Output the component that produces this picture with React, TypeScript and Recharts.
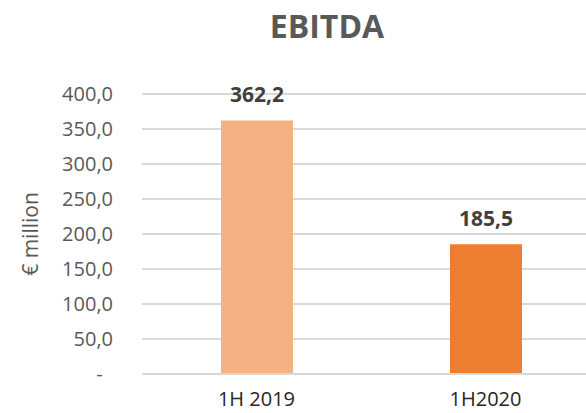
import { BarChart, Bar, XAxis, YAxis, CartesianGrid, Cell, LabelList } from 'recharts';

const categories = ['1H 2019', '1H2020'];
const ebitda = [362.2, 185.5];
const barColors = ['#F4B183', '#ED7D31'];
const yTicks = [0, 50, 100, 150, 200, 250, 300, 350, 400];

const data = categories.map((period, i) => ({ period, ebitda: ebitda[i] }));

const font = '"Open Sans", sans-serif';

const fmtTick = (v: number) => (v === 0 ? '-\u00A0\u00A0' : v.toFixed(1).replace('.', ','));
const fmtLabel = (v: any) => Number(v).toFixed(1).replace('.', ',');

export default function App() {
  return (
    <div
      style={{
        position: 'absolute',
        left: 0,
        top: 0,
        width: 586,
        height: 413,
        overflow: 'hidden',
        background: '#fff',
        fontFamily: font,
      }}
    >
      <div
        style={{
          position: 'absolute',
          left: 0,
          top: 4,
          width: 654,
          textAlign: 'center',
          fontSize: 32,
          fontWeight: 700,
          color: '#595959',
          lineHeight: '44px',
        }}
      >
        EBITDA
      </div>
      <div
        style={{
          position: 'absolute',
          left: 30,
          top: 234,
          transform: 'translate(-50%, -50%) rotate(-90deg)',
          fontSize: 21,
          color: '#595959',
          whiteSpace: 'nowrap',
          lineHeight: '28px',
        }}
      >
        € million
      </div>
      <BarChart
        width={600}
        height={413}
        data={data}
        margin={{ top: 94, right: 0, bottom: 0, left: 0 }}
        style={{ position: 'absolute', left: 0, top: 0 }}
      >
        <CartesianGrid vertical={false} stroke='#D9D9D9' strokeWidth={2} />
        <XAxis
          dataKey='period'
          height={39}
          axisLine={{ stroke: '#D9D9D9', strokeWidth: 2 }}
          tickLine={false}
          tickSize={0}
          tickMargin={18}
          tick={{ fill: '#262626', fontSize: 20, fontFamily: font }}
        />
        <YAxis
          width={142}
          domain={[0, 400]}
          ticks={yTicks}
          axisLine={false}
          tickLine={false}
          tickSize={0}
          tickMargin={29}
          tickFormatter={fmtTick}
          tick={{ fill: '#595959', fontSize: 20, fontFamily: font }}
        />
        <Bar dataKey='ebitda' barSize={72} isAnimationActive={false}>
          {data.map((d, i) => (
            <Cell key={d.period} fill={barColors[i]} />
          ))}
          <LabelList
            dataKey='ebitda'
            position='top'
            offset={18}
            formatter={fmtLabel}
            fill='#404040'
            fontSize={21}
            fontWeight={700}
            fontFamily={font}
          />
        </Bar>
      </BarChart>
    </div>
  );
}
